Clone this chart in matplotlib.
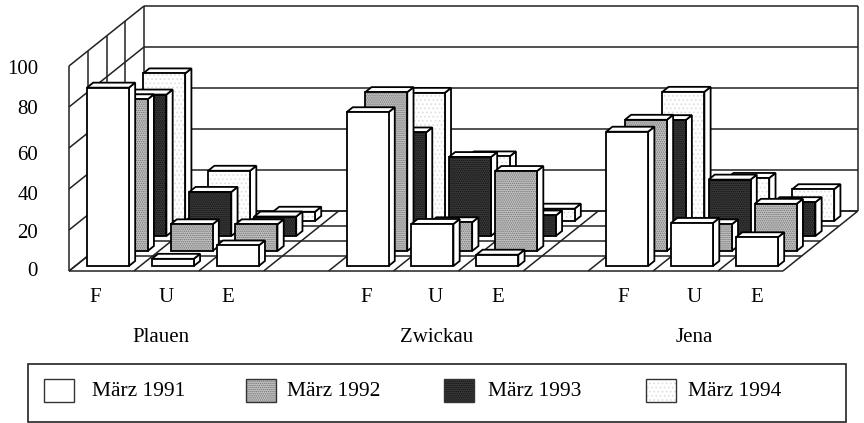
import matplotlib
matplotlib.use('Agg')
import matplotlib.pyplot as plt
from matplotlib.patches import Polygon, Rectangle

# Werte
cities = ['Plauen', 'Zwickau', 'Jena']
kinds = ['F', 'U', 'E']
series = ['März 1991', 'März 1992', 'März 1993', 'März 1994']
m1991 = [87, 3.5, 10, 75, 20.5, 5.5, 65.5, 21, 14]
m1992 = [74, 13, 13, 77.5, 14, 39, 64, 13, 23]
m1993 = [69, 21.5, 9.5, 50.5, 38.5, 10, 56.5, 27.5, 16.5]
m1994 = [72, 24.5, 4.5, 62.5, 31.5, 6, 63, 21, 15.5]
yticks = [0, 20, 40, 60, 80, 100]
positions = [0, 1, 2, 4, 5, 6, 8, 9, 10]

# Lage der Beschriftungen in Pixeln
ytick_y = [271, 233, 196, 156, 110, 70]
kind_x = [95, 166, 228, 366, 435, 498, 623, 694, 757]
city_x = [161, 437, 694]
swatch_x = [44, 246, 444, 646]
legend_x = [92, 287, 488, 688]

plt.rcParams['font.family'] = ['Liberation Serif', 'DejaVu Serif']
plt.rcParams['hatch.linewidth'] = 0.7

X0, Y0 = 69, 271      # vordere linke Ecke
CELL = 64.9           # Breite einer Kategorie
UNIT = 2.05           # Pixel je Prozent
DX, DY = 18.75, -15   # Versatz je Reihe
N_CAT, N_ROW = 11, 4

fills = [
    dict(facecolor='white', hatch=None, edgecolor='white'),
    dict(facecolor='#c4c4c4', hatch='........', edgecolor='#707070'),
    dict(facecolor='#3a3a3a', hatch='........', edgecolor='#111111'),
    dict(facecolor='white', hatch='....', edgecolor='#dedede'),
]


def proj(cat, row, val=0):
    return X0 + cat * CELL + row * DX, Y0 + row * DY - val * UNIT


fig = plt.figure(figsize=(8.64, 4.23), dpi=100)
ax = fig.add_axes([0, 0, 1, 1])
ax.set_xlim(0, 864)
ax.set_ylim(423, 0)
ax.axis('off')


def line(a, b, lw=1.1, color='#222222'):
    ax.plot([a[0], b[0]], [a[1], b[1]], color=color, lw=lw, solid_capstyle='butt', zorder=1)


# Waende und Gitter
for v in yticks:
    line(proj(0, 0, v), proj(0, N_ROW, v))
    line(proj(0, N_ROW, v), proj(N_CAT, N_ROW, v))
for r in range(N_ROW + 1):
    line(proj(0, r), proj(0, r, 100))
    line(proj(0, r), proj(N_CAT, r))
for c in range(N_CAT + 1):
    line(proj(c, 0), proj(c, N_ROW))
line(proj(N_CAT, N_ROW), proj(N_CAT, N_ROW, 100))


def bar(pos, row, val, fill):
    # Saeule mit Vorder-, Seiten- und Deckflaeche
    inset = 0.18
    width = 0.647
    depth = 1 / 3
    r0 = row + depth
    r1 = row + 2 * depth
    c0 = pos + inset
    c1 = c0 + width
    edge = dict(lw=1.3, joinstyle='miter', zorder=3 + 0.1 * (N_ROW - row))
    front = [proj(c0, r0), proj(c1, r0), proj(c1, r0, val), proj(c0, r0, val)]
    side = [proj(c1, r0), proj(c1, r1), proj(c1, r1, val), proj(c1, r0, val)]
    top = [proj(c0, r0, val), proj(c1, r0, val), proj(c1, r1, val), proj(c0, r1, val)]
    for pts in (side, top):
        ax.add_patch(Polygon(pts, closed=True, facecolor='white', edgecolor='black', **edge))
    ax.add_patch(Polygon(front, closed=True, facecolor=fill['facecolor'], hatch=fill['hatch'],
                         edgecolor=fill['edgecolor'], lw=0, zorder=edge['zorder']))
    ax.add_patch(Polygon(front, closed=True, facecolor='none', edgecolor='black', **edge))


rows = [m1991, m1992, m1993, m1994]
for row in range(N_ROW - 1, -1, -1):
    for pos, val in zip(positions, rows[row]):
        bar(pos, row, val, fills[row])

# Beschriftung
for y, v in zip(ytick_y, yticks):
    ax.text(38, y, str(v), ha='right', va='center', fontsize=15)
for x, label in zip(kind_x, kinds * 3):
    ax.text(x, 297, label, ha='center', va='center', fontsize=15)
for x, label in zip(city_x, cities):
    ax.text(x, 338, label, ha='center', va='center', fontsize=15)

# Legende von Hand, die Abstaende sind im Original nicht gleichmaessig
ax.add_patch(Rectangle((28, 364), 818, 58, facecolor='white', edgecolor='#222222', lw=1.2, zorder=4))
for sx, tx, label, f in zip(swatch_x, legend_x, series, fills):
    ax.add_patch(Rectangle((sx, 379), 30, 23, facecolor=f['facecolor'], hatch=f['hatch'],
                           edgecolor=f['edgecolor'], lw=0, zorder=5))
    ax.add_patch(Rectangle((sx, 379), 30, 23, facecolor='none', edgecolor='#333333', lw=1, zorder=5))
    ax.text(tx, 391, label, ha='left', va='center', fontsize=15.5, zorder=5)

fig.savefig('out.png', dpi=100)
